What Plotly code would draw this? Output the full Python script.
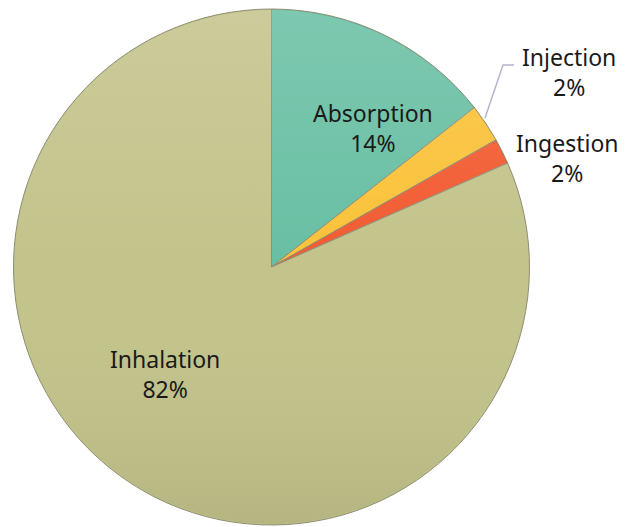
import base64
import plotly.graph_objects as go

# Routes of exposure (share of cases, %)
routes = ["Absorption", "Injection", "Ingestion", "Inhalation"]
shares = [14.4, 2.4, 1.6, 81.6]
colors = ["#68bfa3", "#fbc239", "#f25b31", "#c3c38b"]

W, H = 625, 527
total = sum(shares)
pct = [round(100 * v / total) for v in shares]

# pie placement in pixels (left, right, top, bottom)
PL, PR, PT, PB = 13, 530, 9, 525

fig = go.Figure(
    go.Pie(
        labels=routes,
        values=shares,
        sort=False,
        direction="clockwise",
        rotation=0,
        textinfo="none",
        hoverinfo="label+percent",
        marker=dict(colors=colors, line=dict(color="#8e8e74", width=1)),
        domain=dict(x=[PL / W, PR / W], y=[1 - PB / H, 1 - PT / H]),
        showlegend=False,
    )
)

# soft vertical shading laid over the disc: lighter at the top, darker below
shade_svg = (
    '<svg xmlns="http://www.w3.org/2000/svg" width="200" height="200" viewBox="0 0 200 200">'
    '<defs><linearGradient id="g" x1="0" y1="0" x2="0" y2="1">'
    '<stop offset="0" stop-color="#ffffff" stop-opacity="0.14"/>'
    '<stop offset="0.5" stop-color="#ffffff" stop-opacity="0"/>'
    '<stop offset="1" stop-color="#000000" stop-opacity="0.07"/>'
    '</linearGradient></defs>'
    '<circle cx="100" cy="100" r="99.6" fill="url(#g)"/></svg>'
)
shade_src = "data:image/svg+xml;base64," + base64.b64encode(shade_svg.encode()).decode()

# label anchor positions (pixels from top-left) for each route
label_px = {
    "Absorption": (373, 128),
    "Injection": (569, 72),
    "Ingestion": (567, 158),
    "Inhalation": (165, 374),
}

annotations = []
for name, p in zip(routes, pct):
    x, y = label_px[name]
    annotations.append(
        dict(
            x=x / W,
            y=1 - y / H,
            xref="paper",
            yref="paper",
            text=f"{name}<br>{p}%",
            showarrow=False,
            xanchor="center",
            yanchor="middle",
            align="center",
            font=dict(family="Noto Sans", size=23, color="#1a1a1a"),
        )
    )

disc = min(PR - PL, PB - PT)
cx, cy = (PL + PR) / 2, (PT + PB) / 2

fig.update_layout(
    width=W,
    height=H,
    margin=dict(l=0, r=0, t=0, b=0),
    paper_bgcolor="white",
    plot_bgcolor="white",
    annotations=annotations,
    images=[
        dict(
            source=shade_src,
            xref="paper",
            yref="paper",
            x=(cx - disc / 2) / W,
            y=1 - (cy - disc / 2) / H,
            sizex=disc / W,
            sizey=disc / H,
            xanchor="left",
            yanchor="top",
            sizing="stretch",
            layer="above",
        )
    ],
    shapes=[
        # leader line to the Injection label
        dict(
            type="path",
            xref="paper",
            yref="paper",
            path=(
                f"M {485 / W} {1 - 118 / H} "
                f"L {503 / W} {1 - 65 / H} "
                f"L {514 / W} {1 - 65 / H}"
            ),
            line=dict(color="#b4b4cc", width=1.5),
        )
    ],
)

fig.write_html("out.html")
